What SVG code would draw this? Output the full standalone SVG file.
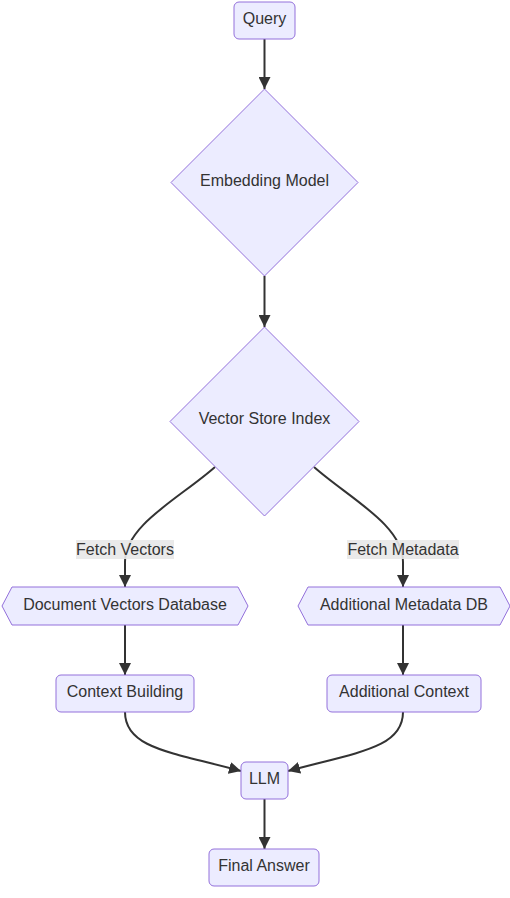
<svg xmlns="http://www.w3.org/2000/svg" width="510" height="898" viewBox="0 0 510 898">
<style>
.n{fill:#ECECFF;stroke:#9370DB;stroke-width:1}
.t{font-family:"Liberation Sans",Arial,sans-serif;font-size:16px;fill:#333;text-anchor:middle;dominant-baseline:central}
.e{fill:none;stroke:#333;stroke-width:2}
.lb{fill:#e8e8e8;opacity:0.9}
</style>
<defs>
<marker id="ah" viewBox="0 0 10 10" refX="10" refY="5" markerUnits="userSpaceOnUse" markerWidth="12" markerHeight="12" orient="auto">
<path d="M0,0 L10,5 L0,10 z" fill="#333"/>
</marker>
</defs>
<rect width="510" height="898" fill="#fff"/>
<g id="edges">
<path class="e" d="M264.5,39 L264.5,89" marker-end="url(#ah)"/>
<path class="e" d="M264.5,276 L264.5,327" marker-end="url(#ah)"/>
<path class="e" d="M215,467 C180,498 125,525 125,562 L125,587" marker-end="url(#ah)"/>
<path class="e" d="M314,467 C349,498 403,525 403,562 L403,587" marker-end="url(#ah)"/>
<path class="e" d="M125,625 L125,675" marker-end="url(#ah)"/>
<path class="e" d="M403,625 L403,675" marker-end="url(#ah)"/>
<path class="e" d="M125,712 C125,748 170,752 241,771" marker-end="url(#ah)"/>
<path class="e" d="M403,712 C403,748 358,752 288,771" marker-end="url(#ah)"/>
<path class="e" d="M264.5,799 L264.5,849" marker-end="url(#ah)"/>
<rect class="lb" x="76" y="540" width="98" height="19"/>
<text class="t" x="125" y="549">Fetch Vectors</text>
<rect class="lb" x="347" y="540" width="112" height="19"/>
<text class="t" x="403" y="549">Fetch Metadata</text>
</g>
<g id="query"><rect class="n" x="234" y="2" width="61" height="37" rx="5"/><text class="t" x="264.5" y="18.5">Query</text></g>
<g id="embedding"><polygon class="n" points="264.5,89 358,182.5 264.5,276 171,182.5"/><text class="t" x="264.5" y="180.5">Embedding Model</text></g>
<g id="vectorstore"><polygon class="n" points="264.5,327 359,421.5 264.5,516 170,421.5"/><text class="t" x="264.5" y="418">Vector Store Index</text></g>
<g id="docvectors"><polygon class="n" points="2,606 12,587 238,587 248,606 238,625 12,625"/><text class="t" x="125" y="604">Document Vectors Database</text></g>
<g id="metadb"><polygon class="n" points="298,606 308,587 500,587 510,606 500,625 308,625"/><text class="t" x="404" y="604">Additional Metadata DB</text></g>
<g id="context"><rect class="n" x="56" y="675" width="138" height="37" rx="5"/><text class="t" x="125" y="691">Context Building</text></g>
<g id="addcontext"><rect class="n" x="327" y="675" width="154" height="37" rx="5"/><text class="t" x="404" y="691">Additional Context</text></g>
<g id="llm"><rect class="n" x="241" y="762" width="47" height="37" rx="5"/><text class="t" x="264.5" y="778.5">LLM</text></g>
<g id="final"><rect class="n" x="209" y="849" width="110" height="37" rx="5"/><text class="t" x="264" y="865.5">Final Answer</text></g>
</svg>
